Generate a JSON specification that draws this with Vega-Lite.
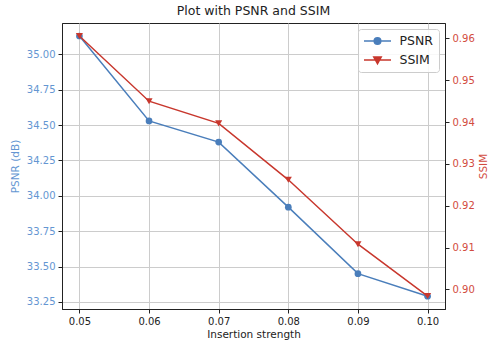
{
  "$schema": "https://vega.github.io/schema/vega-lite/v6.json",
  "autosize": {"type": "none"},
  "padding": {"left": 62, "top": 23, "right": 43, "bottom": 34},
  "width": 383,
  "height": 286,
  "title": {"text": "Plot with PSNR and SSIM", "fontSize": 12.5, "fontWeight": "normal", "font": "DejaVu Sans", "color": "#222", "offset": 6},
  "config": {
    "font": "DejaVu Sans",
    "view": {"stroke": "#222", "strokeWidth": 1},
    "axis": {"labelFontSize": 10, "titleFontSize": 10.5, "titleFontWeight": "normal", "tickColor": "#222", "tickSize": 4, "domainColor": "#222", "gridColor": "#cccccc", "gridWidth": 1, "labelPadding": 3}
  },
  "data": {"values": [
    {"x": 0.05, "psnr": 35.13, "ssim": 0.9606},
    {"x": 0.06, "psnr": 34.53, "ssim": 0.9450},
    {"x": 0.07, "psnr": 34.38, "ssim": 0.9397},
    {"x": 0.08, "psnr": 33.92, "ssim": 0.9262},
    {"x": 0.09, "psnr": 33.45, "ssim": 0.9108},
    {"x": 0.10, "psnr": 33.29, "ssim": 0.8984}
  ]},
  "encoding": {
    "x": {"field": "x", "type": "quantitative", "scale": {"domain": [0.0475, 0.1025], "nice": false, "zero": false},
      "axis": {"values": [0.05, 0.06, 0.07, 0.08, 0.09, 0.1], "format": ".2f", "title": "Insertion strength", "labelColor": "#222", "titleColor": "#222", "titlePadding": 3}}
  },
  "layer": [
    {
      "encoding": {
        "y": {"field": "psnr", "type": "quantitative", "scale": {"domain": [33.2, 35.222], "nice": false, "zero": false},
          "axis": {"orient": "left", "values": [33.25, 33.5, 33.75, 34.0, 34.25, 34.5, 34.75, 35.0], "format": ".2f", "title": "PSNR (dB)", "labelColor": "#6496d2", "titleColor": "#6496d2", "titlePadding": 6}},
        "color": {"datum": "PSNR", "type": "nominal",
          "scale": {"domain": ["PSNR", "SSIM"], "range": ["#4a7ebb", "#c8372d"]},
          "legend": {
            "title": null, "orient": "top-right", "offset": 6,
            "fillColor": "rgba(255,255,255,0.85)", "strokeColor": "#cccccc", "cornerRadius": 3, "padding": 5,
            "labelFontSize": 12.5, "labelColor": "#222", "labelOffset": 15, "symbolOffset": 7.5,
            "symbolSize": 144, "symbolStrokeWidth": 1.5, "rowPadding": 5,
            "encode": {"symbols": {"update": {
              "shape": {"signal": "datum.value === 'PSNR' ? 'M-2.25,0L-0.55,0A0.55,0.55,0,1,1,0.55,0A0.55,0.55,0,1,1,-0.55,0M0.55,0L2.25,0' : 'M-2.25,0L2.25,0M-0.62,-0.5L0.62,-0.5L0,0.6Z'"},
              "fill": {"scale": "color", "field": "value"},
              "stroke": {"scale": "color", "field": "value"},
              "fillOpacity": {"value": 1},
              "strokeWidth": {"value": 1.5}
            }}}
          }}
      },
      "layer": [
        {"mark": {"type": "line", "strokeWidth": 1.5}},
        {"mark": {"type": "point", "shape": "circle", "filled": true, "opacity": 1, "size": 45}}
      ]
    },
    {
      "encoding": {
        "y": {"field": "ssim", "type": "quantitative", "scale": {"domain": [0.8953, 0.9637], "nice": false, "zero": false},
          "axis": {"orient": "right", "values": [0.9, 0.91, 0.92, 0.93, 0.94, 0.95, 0.96], "format": ".2f", "title": "SSIM", "titleAngle": 270, "titleBaseline": "top", "labelColor": "#d24b40", "titleColor": "#d24b40", "titlePadding": 4}},
        "color": {"datum": "SSIM", "type": "nominal"}
      },
      "layer": [
        {"mark": {"type": "line", "strokeWidth": 1.5}},
        {"mark": {"type": "point", "shape": "triangle-down", "filled": true, "opacity": 1, "size": 50}}
      ]
    }
  ],
  "resolve": {"scale": {"y": "independent"}}
}
